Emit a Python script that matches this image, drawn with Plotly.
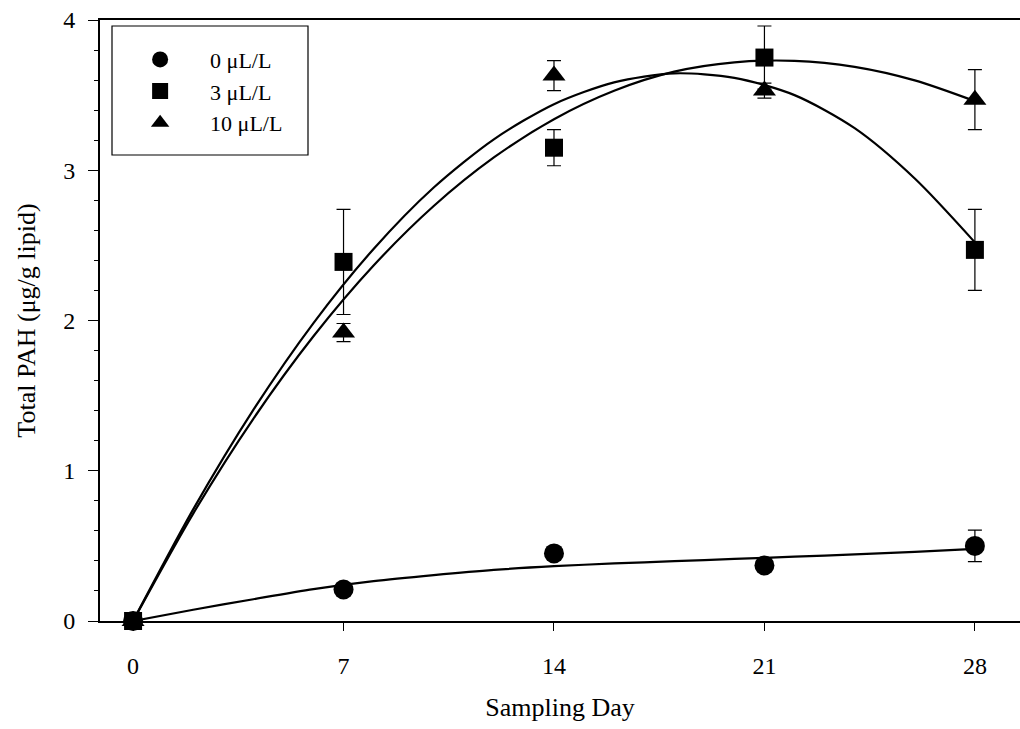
import plotly.graph_objects as go

# Sampling days and mean total PAH per exposure level
days = [0, 7, 14, 21, 28]
pah_0 = [0.0, 0.21, 0.45, 0.37, 0.50]
err_0 = [0.0, 0.02, 0.03, 0.02, 0.105]
pah_3 = [0.0, 2.39, 3.15, 3.75, 2.47]
err_3 = [0.0, 0.35, 0.12, 0.21, 0.27]
pah_10 = [0.0, 1.92, 3.63, 3.53, 3.47]
err_10 = [0.0, 0.06, 0.10, 0.05, 0.20]

# Fitted trend curves sampled every two days
fit_days = [0, 2, 4, 6, 8, 10, 12, 14, 16, 18, 20, 22, 24, 26, 28]
fit_0 = [0.0, 0.075, 0.145, 0.212, 0.265, 0.305, 0.34, 0.365, 0.383, 0.398,
         0.413, 0.428, 0.443, 0.46, 0.48]
fit_3 = [0.0, 0.743, 1.405, 1.983, 2.476, 2.885, 3.206, 3.44, 3.585, 3.645,
         3.615, 3.50, 3.28, 2.945, 2.52]
fit_10 = [0.0, 0.715, 1.346, 1.895, 2.366, 2.762, 3.085, 3.34, 3.529, 3.656,
          3.718, 3.728, 3.688, 3.598, 3.46]

x_ticks = [0, 7, 14, 21, 28]
y_ticks = [0, 1, 2, 3, 4]
labels = ["0 \u03bcL/L", "3 \u03bcL/L", "10 \u03bcL/L"]

FONT = "Liberation Serif, Times New Roman, serif"

fig = go.Figure()

for fy in (fit_0, fit_3, fit_10):
    fig.add_trace(go.Scatter(
        x=fit_days, y=fy, mode="lines",
        line=dict(color="black", width=2.2, shape="spline", smoothing=0.8),
        showlegend=False, hoverinfo="skip", cliponaxis=False,
    ))

series = [
    (pah_0, err_0, "circle", 20),
    (pah_3, err_3, "square", 18),
    (pah_10, err_10, "triangle-up", 20),
]
for (vals, errs, sym, size), name in zip(series, labels):
    fig.add_trace(go.Scatter(
        x=days, y=vals, mode="markers", name=name,
        marker=dict(symbol=sym, size=size, color="black"),
        error_y=dict(type="data", array=errs, visible=True,
                     color="black", thickness=1.2, width=7),
        cliponaxis=False,
    ))

fig.update_layout(
    width=1020, height=729,
    margin=dict(l=100, r=0, t=20, b=108),
    paper_bgcolor="white", plot_bgcolor="white",
    font=dict(family=FONT, size=24, color="black"),
    showlegend=True,
    legend=dict(
        x=0.011, y=0.969, xanchor="left", yanchor="top",
        bgcolor="rgba(0,0,0,0)", borderwidth=0,
        itemwidth=90,
        font=dict(family=FONT, size=22, color="black"),
    ),
    shapes=[dict(
        type="rect", xref="paper", yref="paper",
        x0=12 / 920, x1=208 / 920, y0=(621 - 155) / 601, y1=(621 - 26) / 601,
        line=dict(color="black", width=1.2), fillcolor="rgba(0,0,0,0)",
        layer="below",
    )],
)

fig.update_xaxes(
    range=[-1.1, 29.5], tickvals=x_ticks, ticktext=[str(v) for v in x_ticks],
    showline=True, linecolor="black", linewidth=2, mirror=True,
    ticks="outside", ticklen=8, tickwidth=1.2, tickcolor="black",
    ticklabelstandoff=14, showgrid=False, zeroline=False,
    tickfont=dict(family=FONT, size=24),
    title=dict(text="Sampling Day", font=dict(family=FONT, size=26), standoff=20),
)
fig.update_yaxes(
    range=[0, 4], tickvals=y_ticks, ticktext=[str(v) for v in y_ticks],
    showline=True, linecolor="black", linewidth=2,
    ticks="outside", ticklen=10, tickwidth=1.2, tickcolor="black",
    minor=dict(dtick=0.2, ticks="outside", ticklen=4, tickwidth=1, tickcolor="black"),
    ticklabelstandoff=8, showgrid=False, zeroline=False,
    tickfont=dict(family=FONT, size=24),
    title=dict(text="Total PAH (\u03bcg/g lipid)", font=dict(family=FONT, size=26), standoff=20),
)

fig.write_html("out.html")
